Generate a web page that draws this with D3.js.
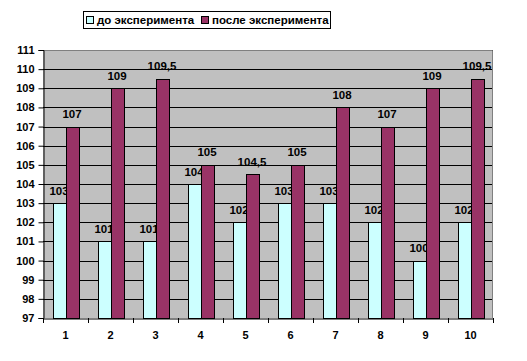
<!DOCTYPE html>
<html><head><meta charset="utf-8">
<script src="https://cdn.jsdelivr.net/npm/d3@7"></script>
<style>body{margin:0;background:#fff}svg{display:block}text{font-family:"Liberation Sans",Arial,sans-serif;font-weight:bold;font-size:11px;fill:#000}</style>
</head><body><svg id="c" width="527" height="361"></svg>
<script>
const categories = ["1","2","3","4","5","6","7","8","9","10"];
const seriesNames = ["до эксперимента","после эксперимента"];
const before = [103,101,101,104,102,103,103,102,100,102];
const after = [107,109,109.5,105,104.5,105,108,107,109,109.5];
const yTicks = [97,98,99,100,101,102,103,104,105,106,107,108,109,110,111];
const colors = ["#CCFFFF","#993366"];

const svg = d3.select("#c");
const L=43, R=493, T=50, B=318;
const x = d3.scaleBand().domain(categories).range([L,R]).padding(0);
const y = d3.scaleLinear().domain([97,111]).range([B,T]);
const bw = x.bandwidth()*13/45;
const off = (x.bandwidth()-2*bw)/2;
const fmt = v => String(v).replace(".",",");

svg.append("rect").attr("x",L).attr("y",T).attr("width",R-L).attr("height",B-T).attr("fill","#C0C0C0");
svg.append("g").selectAll("line").data(yTicks.slice(1)).join("line")
  .attr("x1",L).attr("x2",R).attr("y1",d=>Math.round(y(d))+0.5).attr("y2",d=>Math.round(y(d))+0.5)
  .attr("stroke","#000").attr("stroke-width",1);
svg.append("path").attr("d",`M${L},${T+0.5}H${R-0.5}V${B}`).attr("fill","none").attr("stroke","#808080");

const series=[before,after];
series.forEach((vals,si)=>{
  svg.append("g").selectAll("rect").data(vals).join("rect")
    .attr("x",(d,i)=>Math.round(x(categories[i])+off+si*bw)+0.5)
    .attr("y",d=>Math.round(y(d))+0.5)
    .attr("width",Math.round(bw))
    .attr("height",d=>Math.round(B)-Math.round(y(d)))
    .attr("fill",colors[si]).attr("stroke","#000").attr("stroke-width",1);
  svg.append("g").selectAll("text").data(vals).join("text")
    .attr("x",(d,i)=>x(categories[i])+off+si*bw+bw/2)
    .attr("y",d=>y(d)-8.5)
    .attr("text-anchor","middle").style("font-size","11.5px").text(d=>fmt(d));
});

const yAxis = d3.axisLeft(y).tickValues(yTicks).tickSize(5).tickPadding(4).tickFormat(d=>d);
const gy = svg.append("g").attr("transform",`translate(${L+0.5},0)`).call(yAxis);
const xAxis = d3.axisBottom(x).tickSize(0).tickPadding(13);
const gx = svg.append("g").attr("transform",`translate(0,${B+0.5})`).call(xAxis);
[gy,gx].forEach(g=>{g.select(".domain").attr("stroke","#000");g.selectAll("line").attr("stroke","#000");
  g.selectAll("text").attr("font-family",null).attr("font-size",null).attr("fill","#000");});
// x tick marks at category boundaries
svg.append("g").selectAll("line").data(categories.concat(["end"])).join("line")
  .attr("x1",(d,i)=>Math.round(L+i*x.step())+0.5).attr("x2",(d,i)=>Math.round(L+i*x.step())+0.5)
  .attr("y1",B).attr("y2",B+5).attr("stroke","#000");

// legend
const lg = svg.append("g");
lg.append("rect").attr("x",83.5).attr("y",11.5).attr("width",247).attr("height",17).attr("fill","#fff").attr("stroke","#000");
const lx=[86,201];
seriesNames.forEach((n,i)=>{
  lg.append("rect").attr("x",lx[i]+0.5).attr("y",16.5).attr("width",7).attr("height",7).attr("fill",colors[i]).attr("stroke","#000");
  lg.append("text").attr("x",lx[i]+11).attr("y",24).style("font-size","11.5px").text(n);
});
</script></body></html>
